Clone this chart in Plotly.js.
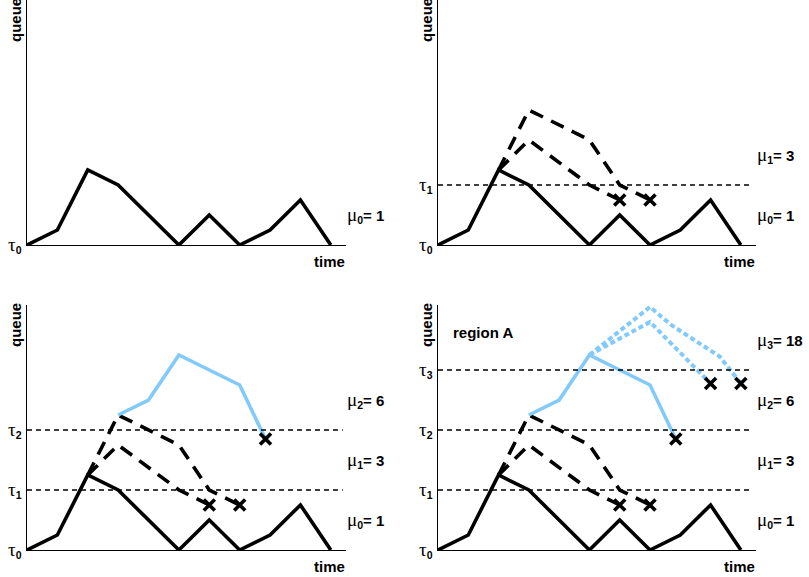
<!DOCTYPE html>
<html><head><meta charset="utf-8">
<script src="https://cdn.plot.ly/plotly-3.0.1.min.js"></script>
<style>html,body{margin:0;padding:0;background:#fff;}</style>
</head><body><div id="chart" style="width:809px;height:577px;"></div>
<script>
// ---- data ----
const baseX = [0, 1, 2, 3, 5, 6, 7, 8, 9, 10];
const baseY = [0, 1, 5, 4, 0, 2, 0, 1, 3, 0];
const dashUpX = [2, 3, 5, 6, 7];
const dashUpY = [5, 9, 7, 4, 3];
const dashLoX = [2, 3, 5, 6];
const dashLoY = [5, 7, 4, 3];
const blueX = [3, 4, 5, 7, 7.85];
const blueY = [9, 10, 13, 11, 7.4];
const dotUpX = [5, 7, 7.7, 9.3, 10];
const dotUpY = [13, 16.2, 15, 12.9, 11.1];
const dotLoX = [5, 7, 9];
const dotLoY = [13, 15.2, 11.1];
const killDashX = [6, 7];
const killDashY = [3, 3];
const killBlueX = [7.85];
const killBlueY = [7.4];
const killDotX = [9, 10];
const killDotY = [11.1, 11.1];
const tauLevels = [0, 4, 8, 12];
const tauNames = ['0', '1', '2', '3'];
const muMid = [2, 6, 10, 14];
const muVals = ['1', '3', '6', '18'];
const xLabel = 'time';
const yLabel = 'queue';
const regionLabel = 'region A';

// ---- layout helpers ----
const W = 809, H = 577;
const BLUE = '#82CAFA';
const panels = [
  {x0: 27, x1: 346, top: 0, bot: 245, levels: 1},
  {x0: 438, x1: 756, top: 0, bot: 245, levels: 2},
  {x0: 27, x1: 346, top: 305, bot: 550, levels: 3},
  {x0: 438, x1: 756, top: 305, bot: 550, levels: 4}
];
const layout = {
  width: W, height: H, margin: {l: 0, r: 0, t: 0, b: 0},
  paper_bgcolor: '#fff', plot_bgcolor: 'rgba(0,0,0,0)',
  showlegend: false, shapes: [], annotations: []
};
const traces = [];
const bold = {family: 'Liberation Sans, Arial, sans-serif', size: 15, color: '#000', weight: 'bold'};
const greek = (ch) => '<span style="font-family:\'Liberation Serif\',serif;font-weight:normal;font-size:19px">' + ch + '</span>';

panels.forEach((p, i) => {
  const n = i + 1;
  const xa = n === 1 ? 'xaxis' : 'xaxis' + n;
  const ya = n === 1 ? 'yaxis' : 'yaxis' + n;
  const xr = n === 1 ? 'x' : 'x' + n;
  const yr = n === 1 ? 'y' : 'y' + n;
  layout[xa] = {domain: [p.x0 / W, p.x1 / W], range: [0, 10.5], anchor: yr,
    showline: true, linecolor: '#000', linewidth: 1.3, showticklabels: false,
    ticks: '', showgrid: false, zeroline: false, fixedrange: true};
  layout[ya] = {domain: [(H - p.bot) / H, (H - p.top) / H], range: [0, 245 / 15], anchor: xr,
    showline: true, linecolor: '#000', linewidth: 1.3, showticklabels: false,
    ticks: '', showgrid: false, zeroline: false, fixedrange: true};

  const line = (x, y, color, dash, width) => traces.push({type: 'scatter', mode: 'lines', x: x, y: y,
    xaxis: xr, yaxis: yr, line: {color: color, width: width, dash: dash}, hoverinfo: 'skip'});
  const kills = (x, y) => traces.push({type: 'scatter', mode: 'markers', x: x, y: y, xaxis: xr, yaxis: yr,
    cliponaxis: false, marker: {symbol: 'x-thin-open', size: 11, color: '#000', line: {width: 3.6, color: '#000'}},
    hoverinfo: 'skip'});

  if (p.levels >= 2) {
    line(dashUpX, dashUpY, '#000', '14px,9px', 3.6);
    line(dashLoX, dashLoY, '#000', '14px,9px', 3.6);
    kills(killDashX, killDashY);
  }
  if (p.levels >= 4) {
    line(dotUpX, dotUpY, BLUE, '5px,3px', 4);
    line(dotLoX, dotLoY, BLUE, '5px,3px', 4);
    kills(killDotX, killDotY);
  }
  if (p.levels >= 3) {
    line(blueX, blueY, BLUE, 'solid', 3.6);
    kills(killBlueX, killBlueY);
  }
  line(baseX, baseY, '#000', 'solid', 3.6);

  for (let k = 0; k < p.levels; k++) {
    if (k > 0) {
      layout.shapes.push({type: 'line', xref: xr + ' domain', yref: yr, x0: 0, x1: 0.99,
        y0: tauLevels[k], y1: tauLevels[k], line: {color: '#000', width: 1.3, dash: '5px,4px'}});
    }
    layout.annotations.push({xref: 'paper', yref: yr, x: (p.x0 - 3) / W, y: tauLevels[k],
      xanchor: 'right', yanchor: 'middle', showarrow: false, font: bold,
      text: greek('τ') + '<sub>' + tauNames[k] + '</sub>'});
    layout.annotations.push({xref: 'paper', yref: yr, x: (p.x1 - 1) / W, y: muMid[k],
      xanchor: 'left', yanchor: 'middle', showarrow: false, font: bold,
      text: greek('μ') + '<sub>' + tauNames[k] + '</sub>= ' + muVals[k]});
  }
  layout.annotations.push({xref: 'paper', yref: 'paper', x: (p.x1 + 1) / W, y: (H - p.bot - 16) / H,
    xanchor: 'right', yanchor: 'middle', showarrow: false, font: bold, text: xLabel});
  layout.annotations.push({xref: 'paper', yref: 'paper', x: (p.x0 - 12) / W, y: (H - p.top - 20) / H,
    xanchor: 'center', yanchor: 'middle', showarrow: false, font: bold, text: yLabel, textangle: -90});
  if (p.levels >= 4) {
    layout.annotations.push({xref: xr, yref: yr, x: 0.43, y: 14.5, xanchor: 'left', yanchor: 'middle',
      showarrow: false, font: bold, text: regionLabel});
  }
});

Plotly.newPlot('chart', traces, layout, {staticPlot: true, displayModeBar: false});
</script></body></html>
